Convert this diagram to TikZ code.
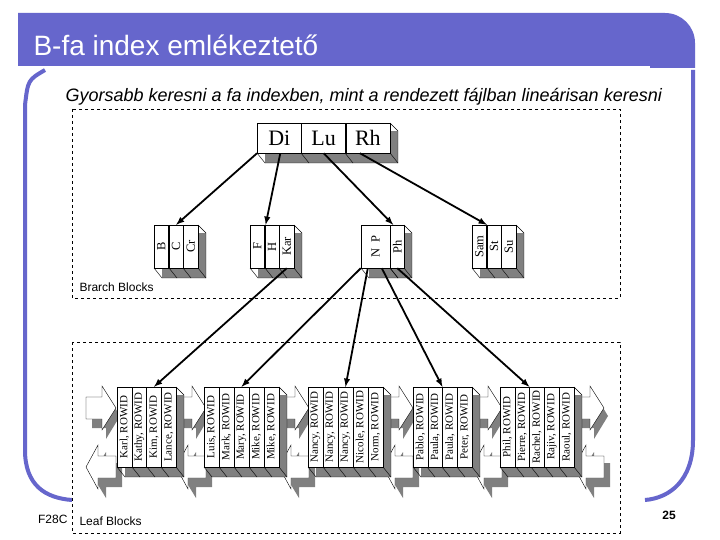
\documentclass[tikz,border=0pt]{standalone}
\usepackage{fontspec}
\setmainfont{Liberation Serif}
\setsansfont{Liberation Sans}
\usetikzlibrary{arrows}
\definecolor{slide}{RGB}{102,102,204}
\definecolor{shadowgray}{RGB}{128,128,128}

% shadow of a block: corners (x1,y1) (x2,y2), list of inner cell borders
\newcommand{\blockshade}[5]{%
  \fill[shadowgray] (#1+8,#2+8) rectangle (#3+8,#4+10);
  \foreach \bx in {#1,#5,#3} \draw[thin] (\bx,#4) -- (\bx+8,#4+10);
  \draw[thin] (#1+8,#4+10) -- (#3+8,#4+10) -- (#3+8,#2+8) -- (#3,#2);
}
% block arrows between two leaf blocks
\newcommand{\rarrow}[2]{%
  \fill[shadowgray] (#1+6,#2-4) -- (#1+20,#2-4) -- (#1+20,#2-15) -- (#1+34,#2+8) -- (#1+20,#2+31) -- (#1+20,#2+20) -- (#1+6,#2+20) -- cycle;
  \draw[fill=white] (#1,#2-11) -- (#1+16,#2-11) -- (#1+16,#2-22) -- (#1+30,#2) -- (#1+16,#2+22) -- (#1+16,#2+11) -- (#1,#2+11) -- cycle;
}
\newcommand{\larrow}[2]{%
  \fill[shadowgray] (#1+36,#2-4) -- (#1+20,#2-4) -- (#1+20,#2-15) -- (#1+6,#2+8) -- (#1+20,#2+31) -- (#1+20,#2+20) -- (#1+36,#2+20) -- cycle;
  \draw[fill=white] (#1+30,#2-11) -- (#1+12,#2-11) -- (#1+12,#2-22) -- (#1,#2) -- (#1+12,#2+22) -- (#1+12,#2+11) -- (#1+30,#2+11) -- cycle;
}

\begin{document}
\begin{tikzpicture}[x=1pt,y=-1pt,
    marrs/.style={line width=1.8pt,-latex},
    rootcell/.style={draw, fill=white, minimum width=44pt, minimum height=30pt, inner sep=0, font=\fontsize{22}{22}\selectfont},
    brcell/.style={draw, fill=white, minimum width=14.5pt, minimum height=43pt, inner sep=0, font=\fontsize{12.5}{12.5}\selectfont},
    leafcell/.style={draw, fill=white, minimum width=14.8pt, minimum height=80pt, inner sep=0, font=\fontsize{11}{11}\selectfont},
    boxlabel/.style={anchor=base west, font=\sffamily\fontsize{12}{12}\selectfont}]
    \useasboundingbox (0,0) rectangle (720,540);
    \fill[white] (0,0) rectangle (720,540);

    % slide frame
    \fill[slide] (18,13) -- (665,13) arc[start angle=270, end angle=360, radius=30] -- (695,68) -- (18,68) -- cycle;
    \draw[white, line width=3pt] (0,68) -- (650,68);
    \draw[slide, line width=4pt] (45,70) .. controls (28,80) .. (25,105) -- (25,450) .. controls (25,485) and (45,498) .. (72,500);
    \draw[slide, line width=4pt] (693,70) -- (693,440) .. controls (693,480) and (670,498) .. (645,500);
    \node[anchor=base west, white, font=\sffamily\fontsize{28}{28}\selectfont] (title) at (30,56) {B-fa index emlékeztető};
    \node[anchor=base west, font=\sffamily\itshape\fontsize{18}{18}\selectfont] (sub) at (62,102) {Gyorsabb keresni a fa indexben, mint a rendezett fájlban lineárisan keresni};

    % dashed boxes
    \draw[dashed, fill=white] (72,109) rectangle (620,298);
    \draw[dashed, fill=white] (72,342) rectangle (620,533);
    \node[boxlabel] (brlab) at (76,291) {Brarch Blocks};
    \node[boxlabel] (leaflab) at (76,525) {Leaf Blocks};
    \node[anchor=base east, font=\sffamily\fontsize{12}{12}\selectfont] (f28) at (71,523) {F28C};
    \node[anchor=base, font=\sffamily\bfseries\fontsize{12}{12}\selectfont] (pg) at (669,519) {25};

    % root block
    \blockshade{257}{123}{390}{153}{301,345}
    \foreach \t [count=\i] in {Di,Lu,Rh}
        \node[rootcell] (r\i) at (257+44.3*\i-22,138) {\t};

    % branch blocks
    \blockshade{154}{225}{198}{268}{169,183}
    \blockshade{250}{225}{294}{268}{265,279}
    \blockshade{361}{225}{404}{268}{390,390}
    \blockshade{472}{225}{516}{268}{487,501}
    \foreach \t [count=\i] in {B,C,Cr}
        \node[brcell] (b1\i) at (154+14.7*\i-7.3,246.5) {\rotatebox{90}{\t}};
    \foreach \t [count=\i] in {F,H,Kar}
        \node[brcell] (b2\i) at (250+14.7*\i-7.3,246.5) {\rotatebox{90}{\t}};
    \node[brcell, minimum width=29pt] (b31) at (375.5,246.5) {\rotatebox{90}{N\enspace P}};
    \node[brcell] (b32) at (397.3,246.5) {\rotatebox{90}{Ph}};
    \foreach \t [count=\i] in {Sam,St,Su}
        \node[brcell] (b4\i) at (472+14.7*\i-7.3,246.5) {\rotatebox{90}{\t}};

    % leaf blocks
    \rarrow{86}{408} \larrow{86}{467}
    \rarrow{176}{408} \larrow{176}{467}
    \rarrow{279}{408} \larrow{279}{467}
    \rarrow{383}{408} \larrow{383}{467}
    \rarrow{472}{408} \larrow{472}{467}
    \rarrow{574}{408} \larrow{574}{467}
    \blockshade{117}{387}{176}{467}{132,147,161}
    \blockshade{204}{387}{279}{467}{219,234,249,264}
    \blockshade{308}{387}{383}{467}{323,338,353,368}
    \blockshade{413}{387}{472}{467}{427,442,457}
    \blockshade{500}{387}{574}{467}{516,531,545,559}
    \foreach \t [count=\i] in {{Karl, ROWID},{Kathy, ROWID},{Kim, ROWID},{Lance, ROWID}}
        \node[leafcell] (l1\i) at (117+14.8*\i-7.4,427) {\rotatebox{90}{\t}};
    \foreach \t [count=\i] in {{Luis, ROWID},{Mark, ROWID},{Mary, ROWID},{Mike, ROWID},{Mike, ROWID}}
        \node[leafcell] (l2\i) at (204+15*\i-7.5,427) {\rotatebox{90}{\t}};
    \foreach \t [count=\i] in {{Nancy, ROWID},{Nancy, ROWID},{Nancy, ROWID},{Nicole, ROWID},{Norm, ROWID}}
        \node[leafcell] (l3\i) at (308+15*\i-7.5,427) {\rotatebox{90}{\t}};
    \foreach \t [count=\i] in {{Pablo, ROWID},{Paula, ROWID},{Paula, ROWID},{Peter, ROWID}}
        \node[leafcell] (l4\i) at (413+14.8*\i-7.4,427) {\rotatebox{90}{\t}};
    \foreach \t [count=\i] in {{Phil, ROWID},{Pierre, ROWID},{Rachel, ROWID},{Rajiv, ROWID},{Raoul, ROWID}}
        \node[leafcell] (l5\i) at (500+14.8*\i-7.4,427) {\rotatebox{90}{\t}};

    % pointers
    \draw[marrs] (r1.south west) -- (b12.north);
    \draw[marrs] ([xshift=1pt]r1.south) -- ([xshift=1pt]b22.north west);
    \draw[marrs] ([xshift=0pt]r2.south) -- ([xshift=3pt]b31.north east);
    \draw[marrs] ([xshift=-8pt]r3.south) -- (b41.north east);
    \draw[marrs] (b23.south) -- (l13.north);
    \draw[marrs] (b31.south west) -- (l23.north);
    \draw[marrs] ([xshift=7pt]b31.south west) -- (l33.north);
    \draw[marrs] ([xshift=21pt]b31.south west) -- (l43.north west);
    \draw[marrs] (b32.south) -- (l53.north west);
\end{tikzpicture}
\end{document}
